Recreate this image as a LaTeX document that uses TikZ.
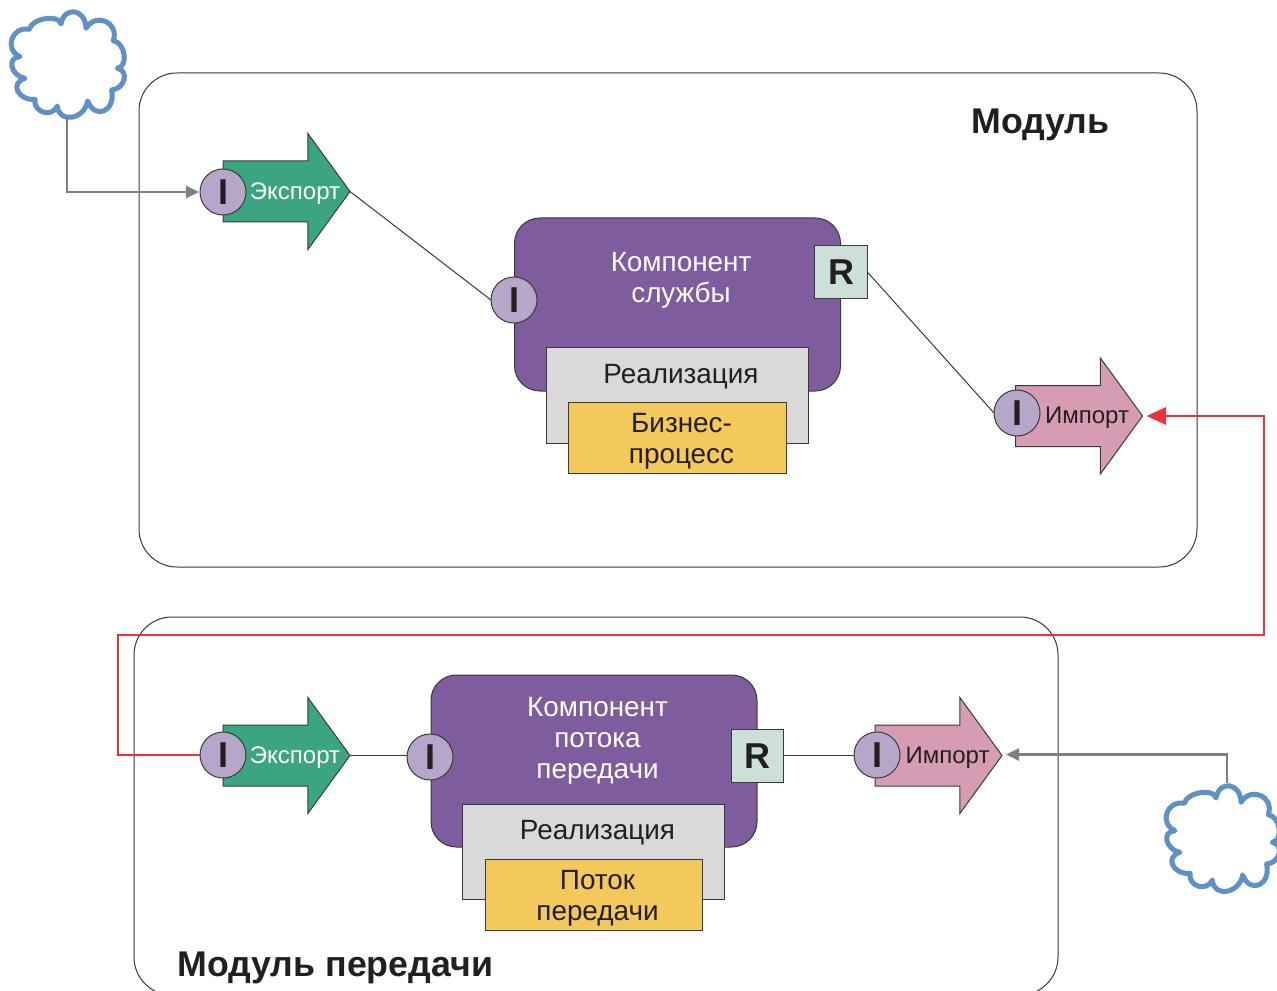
\documentclass[tikz,border=0pt]{standalone}
\usepackage{fontspec}
\setmainfont{Liberation Sans}
\usetikzlibrary{shapes.arrows,arrows.meta,calc}
\definecolor{inkc}{HTML}{231F20}
\definecolor{edgec}{HTML}{3A3A3A}
\definecolor{purplec}{HTML}{7E5C9E}
\definecolor{grayc}{HTML}{D9D9D9}
\definecolor{yellowc}{HTML}{F4C95C}
\definecolor{greenc}{HTML}{3BA582}
\definecolor{pinkc}{HTML}{D69CB3}
\definecolor{circc}{HTML}{B6A6C9}
\definecolor{rboxc}{HTML}{CCE0D8}
\definecolor{cloudc}{HTML}{5F90C8}
\definecolor{conc}{HTML}{7F7F7F}
\definecolor{redc}{HTML}{ED3237}
\tikzset{
  thinline/.style={draw=edgec,line width=0.75pt},
  modulebox/.style n args={2}{thinline,rectangle,rounded corners=28.5pt,outer sep=0pt,minimum width=#1*0.75pt,minimum height=#2*0.75pt},
  compbox/.style n args={2}{thinline,rectangle,rounded corners=19pt,fill=purplec,outer sep=0pt,minimum width=#1*0.75pt,minimum height=#2*0.75pt},
  implbox/.style n args={2}{thinline,rectangle,fill=grayc,outer sep=0pt,minimum width=#1*0.75pt,minimum height=#2*0.75pt},
  procbox/.style n args={2}{thinline,rectangle,fill=yellowc,outer sep=0pt,inner sep=0pt,minimum width=#1*0.75pt,minimum height=#2*0.75pt},
  portarrow/.style={thinline,single arrow,anchor=tip,inner xsep=0pt,inner ysep=22.5pt,outer sep=0pt,
    minimum height=95.25pt,minimum width=86.5pt,single arrow head extend=20.5pt,
    single arrow tip angle=108,single arrow head indent=0pt,fill=#1},
  iport/.style={thinline,circle,fill=circc,inner sep=0pt,outer sep=0pt,minimum size=34.5pt,text=inkc,font=\fontsize{27pt}{27pt}\selectfont\bfseries},
  rport/.style={thinline,rectangle,fill=rboxc,inner sep=0pt,outer sep=0pt,minimum size=39.5pt,text=inkc,font=\fontsize{27pt}{27pt}\selectfont\bfseries},
  arrowtext/.style={inner sep=0pt,font=\fontsize{18pt}{20pt}\selectfont,text=#1},
  comptext/.style={inner sep=0pt,align=center,font=\fontsize{20.9pt}{23.4pt}\selectfont,text=#1},
  titletext/.style={inner sep=0pt,anchor=base west,text=inkc,font=\fontsize{26.8pt}{30pt}\selectfont\bfseries},
  cloudline/.style={draw=cloudc,fill=white,line width=3.75pt,line join=round},
  conline/.style={draw=conc,line width=1.9pt,-{Triangle[length=9.75pt,width=9pt]}},
  redline/.style={draw=redc,line width=1.5pt,-{Triangle[length=14.5pt,width=13pt]}},
  plainline/.style={draw=edgec,line width=0.75pt},
}
\newcommand{\lb}[3]{.. controls ($(#1)!.07!(#2)+(#3)$) and ($(#2)!.07!(#1)+(#3)$) .. (#2)}
\newcommand{\cloudshape}[2]{%
  \begin{scope}[shift={(#1,#2)},x=0.25pt,y=-0.25pt]
  \draw[cloudline] (88,88)
    \lb{88,88}{183,72}{0,-32}
    \lb{183,72}{258,85}{5,-57}
    \lb{258,85}{340,122}{24,-52}
    \lb{340,122}{352,205}{35,0}
    \lb{352,205}{335,270}{38,2}
    \lb{335,270}{263,303}{18,61}
    \lb{263,303}{172,318}{-3,55}
    \lb{172,318}{105,298}{-11,38}
    \lb{105,298}{75,235}{-49,9}
    \lb{75,235}{60,170}{-42,-3}
    \lb{60,170}{88,88}{-51,-16} -- cycle;
  \end{scope}}
\begin{document}
\begin{tikzpicture}[x=0.75pt,y=-0.75pt]
\useasboundingbox (0,0) rectangle (1277,991);
\clip (0,0) rectangle (1277,991);
\fill[white] (0,0) rectangle (1277,991);
% modules
\node[modulebox={1058}{494}] (modA) at (668,320) {};
\node[modulebox={924}{378}] (modB) at (596,806) {};
\node[titletext] (titleA) at (971,134) {Модуль};
\node[titletext] (titleB) at (177,976) {Модуль передачи};
% clouds
\cloudshape{0}{0}
\cloudshape{1155}{774}
\coordinate (cloudA) at (67,119);
\coordinate (cloudB) at (1227,783);
\coordinate (redA) at (118,634.5);
\coordinate (redB) at (1264,416);
% arrows
\node[portarrow=greenc] (expA) at (350,191.5) {};
\node[portarrow=pinkc] (impA) at (1142.5,416) {};
\node[portarrow=greenc] (expB) at (350,755.5) {};
\node[portarrow=pinkc] (impB) at (1002,755.5) {};
\node[arrowtext=white] (expAt) at (295,194) {Экспорт};
\node[arrowtext=inkc] (impAt) at (1087,418) {Импорт};
\node[arrowtext=white] (expBt) at (295,758) {Экспорт};
\node[arrowtext=inkc] (impBt) at (947.5,758) {Импорт};
% component A
\node[compbox={326}{173}] (compA) at (677.5,304.5) {};
\node[comptext=white] (compAt) at (681,280) {Компонент\\службы};
\node[implbox={262}{96}] (implA) at (677,395) {};
\node[comptext=inkc] (implAt) at (681,376.5) {Реализация};
\node[procbox={218}{71}] (procA) at (677,437.5) {};
\node[comptext=inkc] (procAt) at (681.5,441) {Бизнес-\\процесс};
% component B
\node[compbox={326}{172}] (compB) at (594,761) {};
\node[comptext=white] (compBt) at (597.5,741) {Компонент\\потока\\передачи};
\node[implbox={262}{95}] (implB) at (593.5,851.5) {};
\node[comptext=inkc] (implBt) at (597.5,833) {Реализация};
\node[procbox={217}{71}] (procB) at (593.5,894.5) {};
\node[comptext=inkc] (procBt) at (597.5,898) {Поток\\передачи};
% ports
\node[iport] (pExpA) at (223,192) {I};
\node[iport] (pCompA) at (514,300) {I};
\node[rport] (pRA) at (841,272) {R};
\node[iport] (pImpA) at (1017,413) {I};
\node[iport] (pExpB) at (223,755) {I};
\node[iport] (pCompB) at (430,757) {I};
\node[rport] (pRB) at (757.5,756) {R};
\node[iport] (pImpB) at (877,755) {I};
% connectors
\draw[plainline] (expA.tip) -- (pCompA.west);
\draw[plainline] (pRA.east) -- (pImpA.west);
\draw[plainline] (expB.tip) -- (expB.tip -| pCompB.west);
\draw[plainline] (pImpB.west) -- (pImpB.west -| pRB.east);
\draw[conline,shorten >=0.75pt] (cloudA) |- (pExpA.west);
\draw[conline,shorten >=3pt] (cloudB) |- ([yshift=0.75pt]impB.tip);
\draw[redline,shorten >=3.2pt] (pExpB.west) -| (redA) -| (redB) -- (impA.tip);
\end{tikzpicture}
\end{document}
